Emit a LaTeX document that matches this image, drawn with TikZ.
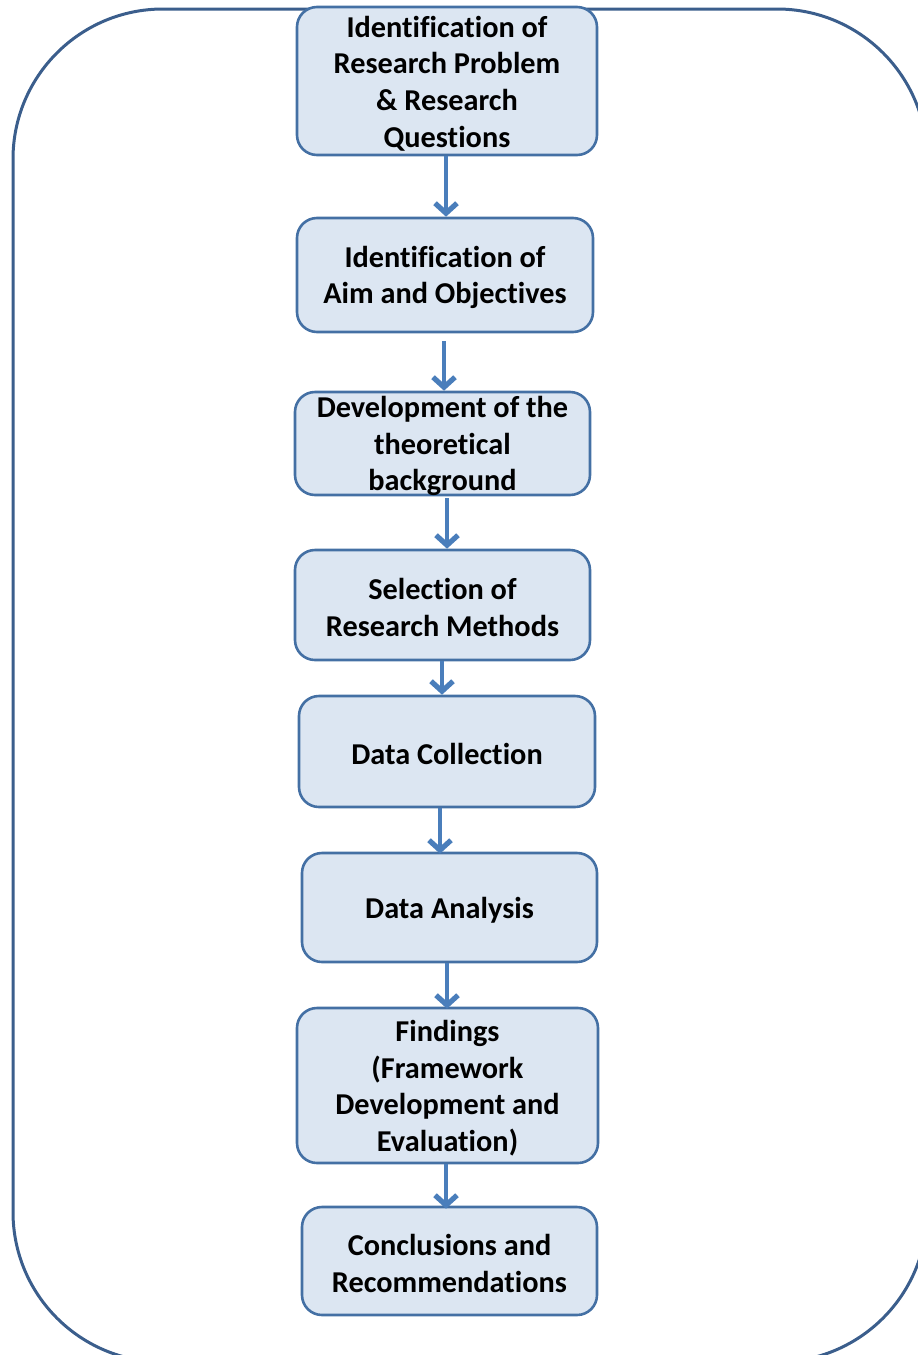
\documentclass[tikz,border=0pt]{standalone}
\usepackage{fontspec}
\setmainfont[Ligatures={NoCommon}]{Carlito}
\usetikzlibrary{arrows.meta}

\definecolor{framecol}{HTML}{3B5E8C}
\definecolor{boxline}{HTML}{4470A4}
\definecolor{boxfill}{HTML}{DCE6F2}
\definecolor{flowcol}{HTML}{4A7EBB}

\tikzset{
  stepbox/.style={draw=boxline, fill=boxfill, line width=2.6pt,
    rounded corners=20pt, inner sep=0pt},
  steptext/.style={inner sep=0pt, align=center, text=black, yshift=-2.5pt,
    font=\fontsize{30.3}{36.6}\selectfont\bfseries},
  flow/.style={draw=flowcol, line width=4pt,
    -{Straight Barb[length=10pt,width=22pt,line width=0pt 1.3]}},
}

\begin{document}
\begin{tikzpicture}[x=1pt,y=-1pt]
  \useasboundingbox (0,0) rectangle (918,1355);
  \clip (0,0) rectangle (918,1355);

  % outer frame, running off the right and bottom edges
  \draw[framecol, line width=3pt, rounded corners=150pt]
    (13,9) rectangle (927,1362);

  % process steps
  \node[stepbox, minimum width=300pt, minimum height=148pt] (b1) at (447,81) {};
  \node[stepbox, minimum width=296pt, minimum height=114pt] (b2) at (445,275) {};
  \node[stepbox, minimum width=295pt, minimum height=103pt] (b3) at (442.5,443.5) {};
  \node[stepbox, minimum width=295pt, minimum height=110pt] (b4) at (442.5,605) {};
  \node[stepbox, minimum width=296pt, minimum height=111pt] (b5) at (447,751.5) {};
  \node[stepbox, minimum width=295pt, minimum height=109pt] (b6) at (449.5,907.5) {};
  \node[stepbox, minimum width=301pt, minimum height=155pt] (b7) at (447.5,1085.5) {};
  \node[stepbox, minimum width=295pt, minimum height=108pt] (b8) at (449.5,1261) {};

  \node[steptext] (t1) at (b1) {Identification of\\Research Problem\\\&~Research\\Questions};
  \node[steptext] (t2) at (b2) {Identification of\\Aim and Objectives};
  \node[steptext] (t3) at (b3) {Development of the\\theoretical\\background};
  \node[steptext] (t4) at (b4) {Selection of\\Research Methods};
  \node[steptext] (t5) at (b5) {Data Collection};
  \node[steptext] (t6) at (b6) {Data Analysis};
  \node[steptext] (t7) at (b7) {Findings\\(Framework\\Development and\\Evaluation)};
  \node[steptext] (t8) at (b8) {Conclusions and\\Recommendations};

  % connectors
  \draw[flow] ([xshift=-1pt]b1.south) -- ([xshift=1pt]b2.north);
  \draw[flow] ([xshift=-1pt,yshift=-8pt]b2.south) -- ([xshift=1.5pt]b3.north);
  \draw[flow] ([xshift=4.5pt,yshift=-2pt]b3.south) -- ([xshift=4.5pt]b4.north);
  \draw[flow] ([xshift=-0.5pt]b4.south) -- ([xshift=-5pt]b5.north);
  \draw[flow] ([xshift=-7pt]b5.south) -- ([xshift=-9.5pt,yshift=-2pt]b6.north);
  \draw[flow] ([xshift=-2.5pt]b6.south) -- ([xshift=-0.5pt,yshift=-2pt]b7.north);
  \draw[flow] ([xshift=-1.5pt]b7.south) -- ([xshift=-3.5pt,yshift=-3pt]b8.north);
\end{tikzpicture}
\end{document}
